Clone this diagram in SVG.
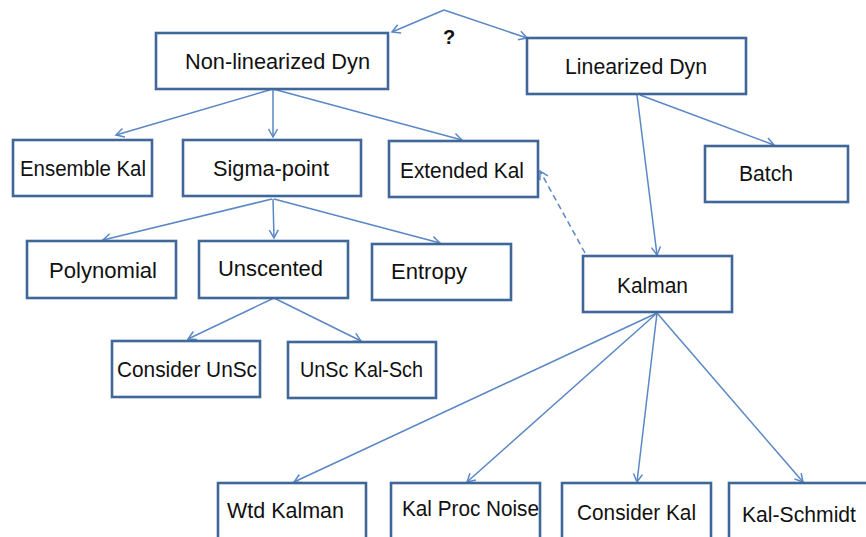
<svg xmlns="http://www.w3.org/2000/svg" width="866" height="537" viewBox="0 0 866 537">
<defs>
<marker id="arr" markerUnits="userSpaceOnUse" markerWidth="12" markerHeight="12" refX="9" refY="5" orient="auto" overflow="visible">
<path d="M1,0.5 L9,5 L1,9.5" fill="none" stroke="#5A87C5" stroke-width="1.5"/>
</marker>
<style>
.box{fill:#ffffff;stroke:#3F6797;stroke-width:2.6}
.t{font-family:"Liberation Sans",Arial,sans-serif;font-size:22px;fill:#111111}
.c{fill:none;stroke:#5A87C5;stroke-width:1.5;marker-end:url(#arr)}
.d{stroke-dasharray:6,4}
</style>
</defs>
<rect width="866" height="537" fill="#ffffff"/>
<g id="connectors">
<path class="c" d="M444,10 L392,32"/>
<path class="c" d="M444,10 L527,38"/>
<path class="c" d="M273,89 L116,135"/>
<path class="c" d="M273,89 L273,137"/>
<path class="c" d="M273,89 L462,140"/>
<path class="c" d="M272,199 L103,240"/>
<path class="c" d="M273,199 L274,238"/>
<path class="c" d="M274,199 L440,243"/>
<path class="c" d="M274,298 L188,339"/>
<path class="c" d="M274,298 L361,341"/>
<path class="c" d="M637,95 L657,255"/>
<path class="c" d="M640,95 L774,145"/>
<path class="c d" d="M585,253 L540,171"/>
<path class="c" d="M657,313 L294,482"/>
<path class="c" d="M657,313 L467,482"/>
<path class="c" d="M657,313 L637,482"/>
<path class="c" d="M657,313 L803,482"/>
<text x="449" y="44" font-family="Liberation Sans,Arial,sans-serif" font-size="20" font-weight="bold" fill="#111" text-anchor="middle">?</text>
</g>
<g id="nonlin"><rect class="box" x="156" y="33" width="232" height="56"/><text class="t" x="185" y="69" textLength="185" lengthAdjust="spacingAndGlyphs">Non-linearized Dyn</text></g>
<g id="lin"><rect class="box" x="527" y="38" width="219" height="56"/><text class="t" x="565" y="74" textLength="142" lengthAdjust="spacingAndGlyphs">Linearized Dyn</text></g>
<g id="ensemble"><rect class="box" x="13" y="140" width="139" height="56"/><text class="t" x="20" y="176" textLength="126" lengthAdjust="spacingAndGlyphs">Ensemble Kal</text></g>
<g id="sigma"><rect class="box" x="183" y="140" width="178" height="56"/><text class="t" x="213" y="176" textLength="116" lengthAdjust="spacingAndGlyphs">Sigma-point</text></g>
<g id="extended"><rect class="box" x="389" y="141" width="149" height="56"/><text class="t" x="400" y="178" textLength="124" lengthAdjust="spacingAndGlyphs">Extended Kal</text></g>
<g id="batch"><rect class="box" x="705" y="146" width="143" height="56"/><text class="t" x="739" y="181" textLength="54" lengthAdjust="spacingAndGlyphs">Batch</text></g>
<g id="polynomial"><rect class="box" x="27" y="241" width="149" height="57"/><text class="t" x="49" y="278" textLength="108" lengthAdjust="spacingAndGlyphs">Polynomial</text></g>
<g id="unscented"><rect class="box" x="199" y="241" width="149" height="57"/><text class="t" x="218" y="276" textLength="105" lengthAdjust="spacingAndGlyphs">Unscented</text></g>
<g id="entropy"><rect class="box" x="372" y="244" width="139" height="56"/><text class="t" x="391" y="279" textLength="76" lengthAdjust="spacingAndGlyphs">Entropy</text></g>
<g id="kalman"><rect class="box" x="583" y="256" width="149" height="56"/><text class="t" x="617" y="293" textLength="71" lengthAdjust="spacingAndGlyphs">Kalman</text></g>
<g id="considerunsc"><rect class="box" x="112" y="341" width="148" height="56"/><text class="t" x="117" y="377" textLength="140" lengthAdjust="spacingAndGlyphs">Consider UnSc</text></g>
<g id="unsckalsch"><rect class="box" x="288" y="342" width="148" height="56"/><text class="t" x="300" y="377" textLength="123" lengthAdjust="spacingAndGlyphs">UnSc Kal-Sch</text></g>
<g id="wtdkalman"><rect class="box" x="218" y="483" width="148" height="60"/><text class="t" x="227" y="518" textLength="117" lengthAdjust="spacingAndGlyphs">Wtd Kalman</text></g>
<g id="kalprocnoise"><rect class="box" x="391" y="483" width="149" height="60"/><text class="t" x="402" y="516" textLength="137" lengthAdjust="spacingAndGlyphs">Kal Proc Noise</text></g>
<g id="considerkal"><rect class="box" x="562" y="483" width="149" height="60"/><text class="t" x="577" y="520" textLength="119" lengthAdjust="spacingAndGlyphs">Consider Kal</text></g>
<g id="kalschmidt"><rect class="box" x="729" y="483" width="145" height="60"/><text class="t" x="742" y="522" textLength="114" lengthAdjust="spacingAndGlyphs">Kal-Schmidt</text></g>
</svg>
